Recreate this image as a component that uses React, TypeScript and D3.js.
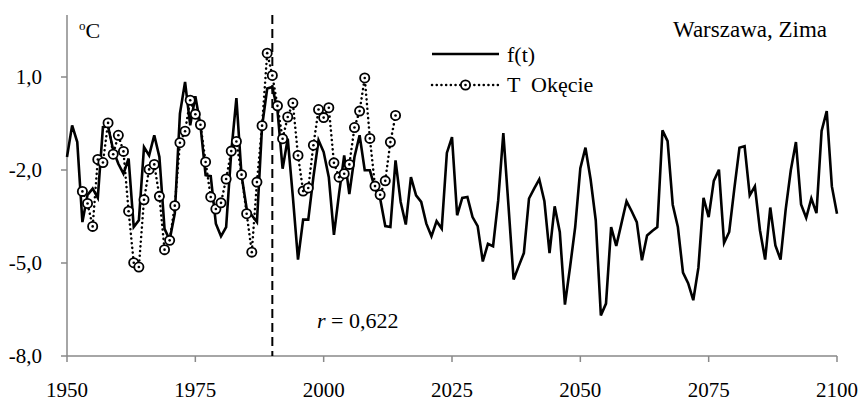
import React from "react";
import * as d3 from "d3";

// Modelled winter temperature f(t), one value per year from 1950 to 2100
const fStartYear = 1950;
const fValues = [
  -1.58, -0.56, -1.1, -3.68, -2.8, -2.6, -2.9, -0.62, -0.59, -1.36,
  -1.8, -2.12, -1.63, -3.84, -3.62, -1.26, -1.53, -0.88, -1.58, -3.9,
  -4.25, -3.4, -0.18, 0.84, -0.56, 0.38, -0.56, -2.17, -2.2, -3.73,
  -4.14, -3.84, -1.42, 0.32, -2.17, -3.25, -3.46, -3.68, -0.59, 0.63,
  0.68, -0.07, -1.96, -0.99, -2.87, -4.89, -3.6, -3.6, -2.23, -1.04,
  -1.42, -2.23, -4.09, -2.76, -1.53, -2.78, -1.58, -0.88, -2.01, -2.01,
  -2.6, -2.92, -3.81, -3.84, -1.69, -3.03, -3.76, -2.23, -2.82, -3.03,
  -3.73, -4.14, -3.65, -3.89, -1.45, -0.94, -3.46, -2.9, -2.87, -3.52,
  -3.81, -4.95, -4.38, -4.46, -2.98, -0.81, -3.15, -5.53, -5.1, -4.68,
  -2.92, -2.6, -2.3, -3.01, -4.68, -3.17, -4.0, -6.34, -5.13, -3.84,
  -1.94, -1.28, -2.3, -3.62, -6.69, -6.31, -3.84, -4.45, -3.73, -3.01,
  -3.33, -3.68, -4.91, -4.11, -3.97, -3.84, -0.72, -1.07, -3.12, -3.84,
  -5.31, -5.65, -6.2, -5.15, -2.9, -3.52, -2.35, -1.99, -4.35, -4.0,
  -2.6, -1.28, -1.23, -2.82, -2.53, -3.95, -4.89, -3.21, -4.43, -4.89,
  -3.28, -2.01, -1.1, -3.11, -3.54, -2.92, -3.39, -0.74, -0.1, -2.53,
  -3.41,
];

// Observed winter temperature at Warszawa-Okęcie, 1953–2014
const tStartYear = 1953;
const tValues = [
  -2.69, -3.08, -3.82, -1.66, -1.76, -0.48, -1.49,
  -0.88, -1.4, -3.33, -4.99, -5.13, -2.96, -1.98, -1.82, -2.85, -4.57,
  -4.27, -3.15, -1.12, -0.75, 0.25, -0.2, -0.54, -1.74, -2.87, -3.26,
  -3.06, -2.29, -1.39, -1.08, -2.15, -3.41, -4.65, -2.39, -0.57, 1.77,
  1.05, 0.07, -0.99, -0.29, 0.16, -1.53, -2.68, -2.58, -1.2, -0.05,
  -0.31, 0.01, -1.77, -2.23, -2.12, -1.82, -0.63, -0.1, 0.97, -0.98,
  -2.52, -2.8, -2.35, -1.1, -0.24,
];

const xTicks = [1950, 1975, 2000, 2025, 2050, 2075, 2100];
const yTicks = [1, -2, -5, -8];
const splitYear = 1990;
const correlation = "0,622";
const title = "Warszawa, Zima";
const unitLabel = "C";
const seriesNames = ["f(t)", "T  Okęcie"];

const W = 860;
const H = 403;
const FONT = "'Liberation Serif', 'Times New Roman', serif";
const AXIS = "#898989";
const FS = 21;

const plLocale = d3.formatLocale({
  decimal: ",",
  thousands: " ",
  grouping: [3],
  currency: ["", " zł"],
  minus: "-",
});
const fmtY = plLocale.format(".1f");

export default function App() {
  const x = d3.scaleLinear().domain([1950, 2100]).range([67, 837]);
  const y = d3.scaleLinear().domain([-8, 3]).range([356, 15]);

  const fLine = d3
    .line<number>()
    .x((_, i) => x(fStartYear + i))
    .y((d) => y(d));
  const tLine = d3
    .line<number>()
    .x((_, i) => x(tStartYear + i))
    .y((d) => y(d));

  const [x0, x1] = x.range();
  const [yBottom, yTop] = y.range();

  const legendX0 = 432;
  const legendX1 = 499;
  const legendY1 = 54;
  const legendY2 = 85;

  return (
    <svg
      width={W}
      height={H}
      viewBox={`0 0 ${W} ${H}`}
      style={{ position: "absolute", left: 0, top: 0, background: "#fff" }}
      fontFamily={FONT}
    >
      <rect width={W} height={H} fill="#fff" />

      {/* axes */}
      <line x1={x0} x2={x0} y1={yTop} y2={yBottom} stroke={AXIS} strokeWidth={1.5} />
      <line x1={x0} x2={x1} y1={yBottom} y2={yBottom} stroke={AXIS} strokeWidth={1.5} />
      {yTicks.map((t) => (
        <g key={`y${t}`}>
          <line x1={x0 - 6} x2={x0} y1={y(t)} y2={y(t)} stroke={AXIS} strokeWidth={1.5} />
          <text x={42} y={y(t) + 7} textAnchor="end" fontSize={FS} fill="#000">
            {fmtY(t)}
          </text>
        </g>
      ))}
      {xTicks.map((t) => (
        <g key={`x${t}`}>
          <line x1={x(t)} x2={x(t)} y1={yBottom} y2={yBottom + 6} stroke={AXIS} strokeWidth={1.5} />
          <text x={x(t)} y={397} textAnchor="middle" fontSize={FS} fill="#000">
            {t}
          </text>
        </g>
      ))}

      {/* unit label */}
      <text x={79} y={38} fontSize={22} fill="#000">
        <tspan fontSize={13} dy={-8}>o</tspan>
        <tspan dy={8}>{unitLabel}</tspan>
      </text>

      {/* split marker */}
      <line
        x1={x(splitYear)}
        x2={x(splitYear)}
        y1={yTop}
        y2={yBottom}
        stroke="#000"
        strokeWidth={2}
        strokeDasharray="9 5"
      />

      {/* model series */}
      <path d={fLine(fValues) ?? ""} fill="none" stroke="#000" strokeWidth={2.6} />

      {/* observed series */}
      <path
        d={tLine(tValues) ?? ""}
        fill="none"
        stroke="#000"
        strokeWidth={2.5}
        strokeDasharray="0.1 4.6"
        strokeLinecap="round"
      />
      {tValues.map((v, i) => (
        <g key={`m${i}`}>
          <circle cx={x(tStartYear + i)} cy={y(v)} r={4.6} fill="#fff" stroke="#000" strokeWidth={1.8} />
          <circle cx={x(tStartYear + i)} cy={y(v)} r={1.3} fill="#000" />
        </g>
      ))}

      {/* title */}
      <text x={827} y={37} textAnchor="end" fontSize={23} fill="#000">
        {title}
      </text>

      {/* legend */}
      <line x1={legendX0} x2={legendX1} y1={legendY1} y2={legendY1} stroke="#000" strokeWidth={2.6} />
      <text x={507} y={legendY1 + 8} fontSize={22} fill="#000">
        {seriesNames[0]}
      </text>
      <line
        x1={legendX0}
        x2={legendX1}
        y1={legendY2}
        y2={legendY2}
        stroke="#000"
        strokeWidth={2.5}
        strokeDasharray="0.1 4.6"
        strokeLinecap="round"
      />
      <circle cx={(legendX0 + legendX1) / 2} cy={legendY2} r={4.6} fill="#fff" stroke="#000" strokeWidth={1.8} />
      <circle cx={(legendX0 + legendX1) / 2} cy={legendY2} r={1.3} fill="#000" />
      <text x={507} y={legendY2 + 7} fontSize={22} fill="#000" style={{ whiteSpace: "pre" }}>
        {seriesNames[1]}
      </text>

      {/* correlation */}
      <text x={317} y={328} fontSize={22} fill="#000" style={{ whiteSpace: "pre" }}>
        <tspan fontStyle="italic">r</tspan>
        {` = ${correlation}`}
      </text>
    </svg>
  );
}
